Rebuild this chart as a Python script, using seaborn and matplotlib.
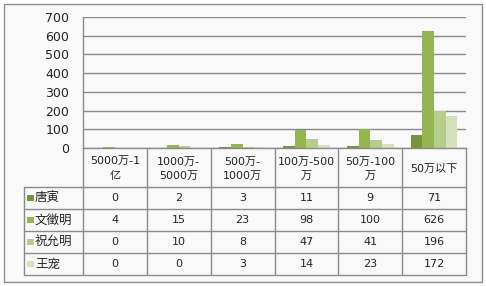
import matplotlib
matplotlib.use("Agg")
import matplotlib.pyplot as plt
import seaborn as sns
import pandas as pd
from matplotlib.patches import Rectangle

categories = ["5000万-1亿", "1000万-5000万", "500万-1000万", "100万-500万", "50万-100万", "50万以下"]
header_labels = ["5000万-1\n亿", "1000万-\n5000万", "500万-\n1000万", "100万-500\n万", "50万-100\n万", "50万以下"]
series_names = ["唐寅", "文徵明", "祝允明", "王宠"]
tang_yin = [0, 2, 3, 11, 9, 71]
wen_zhengming = [4, 15, 23, 98, 100, 626]
zhu_yunming = [0, 10, 8, 47, 41, 196]
wang_chong = [0, 0, 3, 14, 23, 172]
series_values = [tang_yin, wen_zhengming, zhu_yunming, wang_chong]
colors = ["#77933c", "#94b651", "#b6cd8b", "#d4e1bb"]
y_ticks = [0, 100, 200, 300, 400, 500, 600, 700]

rows = []
for name, vals in zip(series_names, series_values):
    for c, v in zip(categories, vals):
        rows.append({"区间": c, "画家": name, "数量": v})
df = pd.DataFrame(rows)

sns.set_theme(style="white")
plt.rcParams['font.family'] = ['DejaVu Sans', 'Noto Sans CJK SC']
FS = 8

W, H = 486, 286
fig = plt.figure(figsize=(W / 100, H / 100), dpi=100)
fig.patch.set_facecolor("white")

# background / table axes in pixel coords
bg = fig.add_axes([0, 0, 1, 1], zorder=0)
bg.set_xlim(0, W)
bg.set_ylim(H, 0)
bg.axis("off")
bg.add_patch(Rectangle((3.5, 3.5), 478.5, 278.5, facecolor="#f9f9f9", edgecolor="#8c8c8c", lw=1))

L, R, T, B = 83, 466, 17, 148
ax = fig.add_axes([L / W, (H - B) / H, (R - L) / W, (B - T) / H], zorder=1)
ax.set_facecolor("none")
sns.barplot(data=df, x="区间", y="数量", hue="画家", order=categories, hue_order=series_names,
            palette=colors, width=0.73, saturation=1, ax=ax, legend=False, linewidth=0)
ax.set_ylim(0, 700)
ax.set_yticks(y_ticks)
ax.set_yticklabels([str(t) for t in y_ticks], fontsize=FS + 1, color="#222222")
ax.set_xticks([])
ax.set_xlabel("")
ax.set_ylabel("")
ax.set_xlim(-0.5, len(categories) - 0.5)
ax.grid(axis="y", color="#8a8a8a", lw=1)
ax.set_axisbelow(True)
for s in ["top", "right"]:
    ax.spines[s].set_visible(False)
for s in ["left", "bottom"]:
    ax.spines[s].set_color("#8a8a8a")
    ax.spines[s].set_linewidth(1)
ax.tick_params(axis="y", length=0, pad=10)

# table
lc = "#8a8a8a"
col_edges = [L + i * (R - L) / len(categories) for i in range(len(categories) + 1)]
row_edges = [B, 187, 209, 231, 253, 275]
leg_x = 24
bg.plot([leg_x, R], [row_edges[1], row_edges[1]], color=lc, lw=1)
for y in row_edges[2:]:
    bg.plot([leg_x, R], [y, y], color=lc, lw=1)
bg.plot([leg_x, leg_x], [row_edges[1], row_edges[-1]], color=lc, lw=1)
for x in col_edges:
    bg.plot([x, x], [B, row_edges[-1]], color=lc, lw=1)

for i, lab in enumerate(header_labels):
    cx = (col_edges[i] + col_edges[i + 1]) / 2
    bg.text(cx, (row_edges[0] + row_edges[1]) / 2 + 1, lab, ha="center", va="center",
            fontsize=FS, color="#222222", linespacing=1.5)

for r, (name, vals) in enumerate(zip(series_names, series_values)):
    cy = (row_edges[r + 1] + row_edges[r + 2]) / 2
    bg.add_patch(Rectangle((leg_x + 2.5, cy - 3), 7, 6, facecolor=colors[r], edgecolor="none"))
    bg.text(leg_x + 11, cy, name, ha="left", va="center", fontsize=FS + 1, color="#222222")
    for i, v in enumerate(vals):
        cx = (col_edges[i] + col_edges[i + 1]) / 2
        bg.text(cx, cy, str(v), ha="center", va="center", fontsize=FS, color="#222222")

fig.savefig("out.png", dpi=100, facecolor="white")
